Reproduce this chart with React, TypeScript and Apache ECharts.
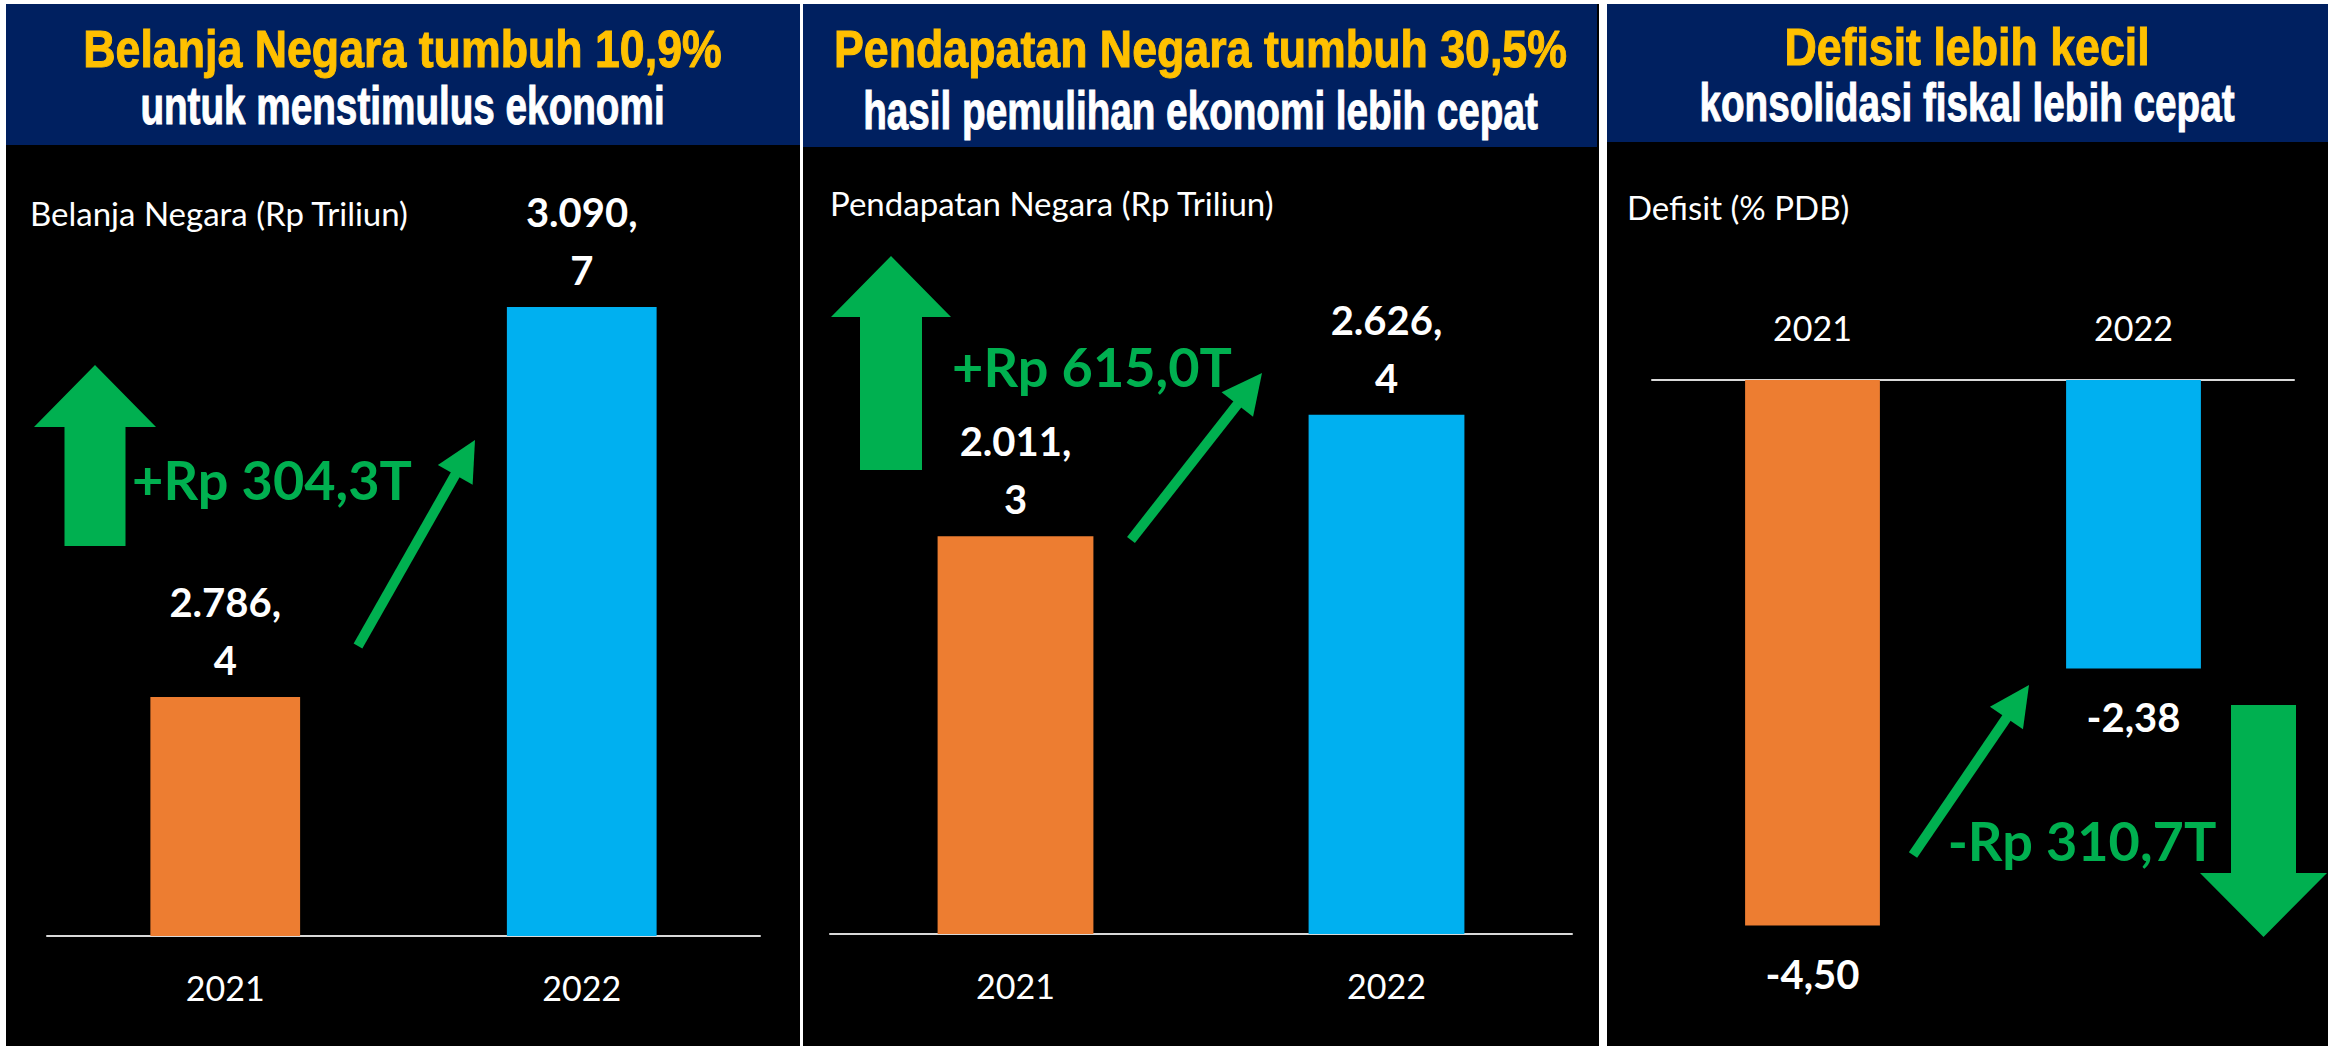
import React, { useEffect, useRef } from 'react';
import * as echarts from 'echarts';

// ---------- data ----------
const categories = ['2021', '2022'];
const belanjaValues = [2786.4, 3090.7];
const pendapatanValues = [2011.3, 2626.4];
const defisitValues = [-4.5, -2.38];
const barColors = ['#ED7D31', '#00B0F0'];

const headlineTexts = [
  'Belanja Negara tumbuh 10,9%',
  'Pendapatan Negara tumbuh 30,5%',
  'Defisit lebih kecil',
];
const headlineSubTexts = [
  'untuk menstimulus ekonomi',
  'hasil pemulihan ekonomi lebih cepat',
  'konsolidasi fiskal lebih cepat',
];
const axisCaptions = [
  'Belanja Negara (Rp Triliun)',
  'Pendapatan Negara (Rp Triliun)',
  'Defisit (% PDB)',
];
const changeLabels = ['+Rp 304,3T', '+Rp 615,0T', '-Rp 310,7T'];

// ---------- styling / layout ----------
const W = 2338;
const H = 1046;
const HEADER_BG = '#002060';
const YELLOW = '#FFC000';
const GREEN = '#00B050';
const AXIS_GRAY = '#D9D9D9';
const SANS = '"Liberation Sans", Arial, sans-serif';
const BODY = 'Lato, "Open Sans", sans-serif';

const panels = [
  { x0: 6, x1: 799, hx1: 799, hb: 145, t1y: 49, t2y: 106 },
  { x0: 803, x1: 1598, hx1: 1596, hb: 147, t1y: 49, t2y: 111 },
  { x0: 1607, x1: 2327, hx1: 2327, hb: 142, t1y: 47, t2y: 103 },
];
const captionPos = [
  [30, 213],
  [830, 203],
  [1627, 207],
];
const changePos = [
  [272, 479],
  [1092, 366],
  [2082, 840],
];

function fmtTriliun(v: number) {
  const [i, d] = v.toFixed(1).split('.');
  return i.replace(/\B(?=(\d{3})+(?!\d))/g, '.') + ',\n' + d;
}
function fmtPct(v: number) {
  return v.toFixed(2).replace('.', ',');
}

function thinArrow(x1: number, y1: number, x2: number, y2: number) {
  const hl = 40;
  const hw = 20;
  const dx = x2 - x1;
  const dy = y2 - y1;
  const len = Math.sqrt(dx * dx + dy * dy);
  const ux = dx / len;
  const uy = dy / len;
  const bx = x2 - ux * hl;
  const by = y2 - uy * hl;
  const px = -uy;
  const py = ux;
  return [
    {
      type: 'line',
      z: 20,
      shape: { x1, y1, x2: bx + ux * 2, y2: by + uy * 2 },
      style: { stroke: GREEN, lineWidth: 10, lineCap: 'butt' },
    },
    {
      type: 'polygon',
      z: 20,
      shape: {
        points: [
          [x2, y2],
          [bx + px * hw, by + py * hw],
          [bx - px * hw, by - py * hw],
        ],
      },
      style: { fill: GREEN },
    },
  ];
}

function bigArrow(cx: number, tip: number, headBase: number, end: number, hw: number, sw: number) {
  return {
    type: 'polygon',
    z: 20,
    shape: {
      points: [
        [cx, tip],
        [cx + hw, headBase],
        [cx + sw, headBase],
        [cx + sw, end],
        [cx - sw, end],
        [cx - sw, headBase],
        [cx - hw, headBase],
      ],
    },
    style: { fill: GREEN },
  };
}

function buildGraphic() {
  const g: any[] = [];
  panels.forEach((p, i) => {
    g.push({
      type: 'rect',
      z: -10,
      shape: { x: p.x0, y: 4, width: p.x1 - p.x0 + 1, height: H - 4 },
      style: { fill: '#000000' },
    });
    g.push({
      type: 'rect',
      z: -9,
      shape: { x: p.x0, y: 4, width: p.hx1 - p.x0 + 1, height: p.hb - 4 },
      style: { fill: HEADER_BG },
    });
    const cx = (p.x0 + p.x1) / 2;
    g.push({
      type: 'text',
      z: 20,
      x: cx,
      y: p.t1y,
      scaleX: 0.86,
      style: {
        text: headlineTexts[i],
        fill: YELLOW,
        stroke: YELLOW,
        lineWidth: 1,
        fontFamily: SANS,
        fontWeight: 'bold',
        fontSize: 52,
        align: 'center',
        verticalAlign: 'middle',
      },
    });
    g.push({
      type: 'text',
      z: 20,
      x: cx,
      y: p.t2y,
      scaleX: 0.73,
      style: {
        text: headlineSubTexts[i],
        fill: '#FFFFFF',
        stroke: '#FFFFFF',
        lineWidth: 1,
        fontFamily: SANS,
        fontWeight: 'bold',
        fontSize: 53,
        align: 'center',
        verticalAlign: 'middle',
      },
    });
    g.push({
      type: 'text',
      z: 20,
      x: captionPos[i][0],
      y: captionPos[i][1],
      style: {
        text: axisCaptions[i],
        fill: '#FFFFFF',
        fontFamily: BODY,
        fontSize: 33,
        align: 'left',
        verticalAlign: 'middle',
      },
    });
    g.push({
      type: 'text',
      z: 20,
      x: changePos[i][0],
      y: changePos[i][1],
      style: {
        text: changeLabels[i],
        fill: GREEN,
        fontFamily: BODY,
        fontWeight: 'bold',
        fontSize: 54,
        align: 'center',
        verticalAlign: 'middle',
      },
    });
  });
  g.push(bigArrow(95, 365, 427, 546, 61, 30.5));
  g.push(bigArrow(891, 256, 317, 470, 60, 31));
  g.push(bigArrow(2263.5, 937, 873, 705, 63.5, 32.5));
  g.push(...thinArrow(358, 646, 475, 440));
  g.push(...thinArrow(1131, 540, 1262, 373));
  g.push(...thinArrow(1913, 855, 2029, 685));
  return g;
}

const catLabelStyle = {
  color: '#FFFFFF',
  fontFamily: BODY,
  fontSize: 34,
};

const valueLabelStyle = {
  color: '#FFFFFF',
  fontFamily: BODY,
  fontWeight: 'bold' as const,
  fontSize: 40,
  lineHeight: 58,
};

export default function App() {
  const ref = useRef<HTMLDivElement>(null);
  useEffect(() => {
    document.body.style.margin = '0';
    const chart = echarts.init(ref.current!, undefined, { renderer: 'svg' });
    const colorFn = (p: any) => barColors[p.dataIndex % barColors.length];
    chart.setOption({
      animation: false,
      backgroundColor: '#FFFFFF',
      grid: [
        { left: 47, width: 713, top: 167, height: 769 },
        { left: 830, width: 742, top: 242, height: 692 },
        { left: 1652, width: 642, top: 380, height: 606 },
      ],
      xAxis: [
        {
          type: 'category',
          gridIndex: 0,
          data: categories,
          axisLine: { lineStyle: { color: AXIS_GRAY, width: 2 } },
          axisTick: { show: false },
          axisLabel: { ...catLabelStyle, margin: 34 },
        },
        {
          type: 'category',
          gridIndex: 1,
          data: categories,
          axisLine: { lineStyle: { color: AXIS_GRAY, width: 2 } },
          axisTick: { show: false },
          axisLabel: { ...catLabelStyle, margin: 34 },
        },
        {
          type: 'category',
          gridIndex: 2,
          position: 'top',
          data: categories,
          axisLine: { onZero: false, lineStyle: { color: AXIS_GRAY, width: 2 } },
          axisTick: { show: false },
          axisLabel: { ...catLabelStyle, margin: 36 },
        },
      ],
      yAxis: [
        { type: 'value', gridIndex: 0, min: 2600, max: 3200, show: false, splitLine: { show: false } },
        { type: 'value', gridIndex: 1, min: 0, max: 3500, show: false, splitLine: { show: false } },
        { type: 'value', gridIndex: 2, min: -5, max: 0, show: false, splitLine: { show: false } },
      ],
      series: [
        {
          type: 'bar',
          xAxisIndex: 0,
          yAxisIndex: 0,
          data: belanjaValues,
          barCategoryGap: '58%',
          itemStyle: { color: colorFn },
          label: {
            show: true,
            position: 'top',
            distance: 8,
            formatter: (p: any) => fmtTriliun(p.value),
            ...valueLabelStyle,
          },
        },
        {
          type: 'bar',
          xAxisIndex: 1,
          yAxisIndex: 1,
          data: pendapatanValues,
          barCategoryGap: '58%',
          itemStyle: { color: colorFn },
          label: {
            show: true,
            position: 'top',
            distance: 8,
            formatter: (p: any) => fmtTriliun(p.value),
            ...valueLabelStyle,
          },
        },
        {
          type: 'bar',
          xAxisIndex: 2,
          yAxisIndex: 2,
          data: defisitValues,
          barCategoryGap: '58%',
          itemStyle: { color: colorFn },
          label: {
            show: true,
            position: 'bottom',
            distance: 20,
            formatter: (p: any) => fmtPct(p.value),
            ...valueLabelStyle,
          },
        },
      ],
      graphic: buildGraphic(),
    });
    return () => chart.dispose();
  }, []);
  return (
    <div
      ref={ref}
      style={{ position: 'fixed', left: 0, top: 0, width: W, height: H }}
    />
  );
}
